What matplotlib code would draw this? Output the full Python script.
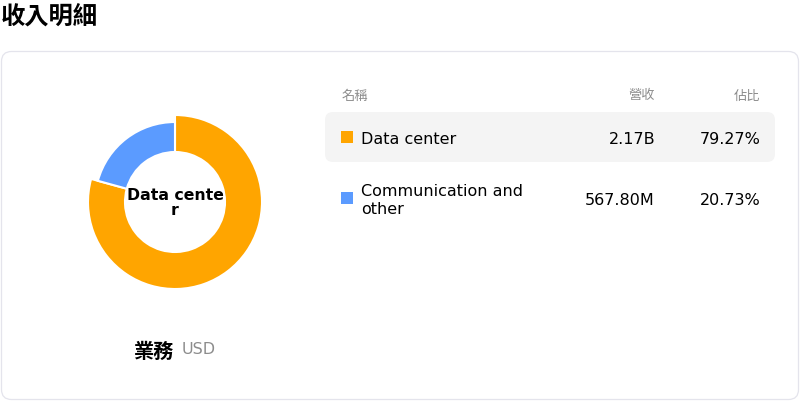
import matplotlib
matplotlib.use('Agg')
import matplotlib.pyplot as plt
from matplotlib.patches import FancyBboxPatch, Rectangle

# data
names = ['Data center', 'Communication and\nother']
revenue_labels = ['2.17B', '567.80M']
shares = [79.27, 20.73]
colors = ['#ffa500', '#5b9bff']
title = '收入明細'
headers = ['名稱', '營收', '佔比']
center_label = 'Data cente\nr'

CJK = ['Noto Sans CJK TC', 'DejaVu Sans']

fig = plt.figure(figsize=(8, 4.02), dpi=100)
ax = fig.add_axes([0, 0, 1, 1])
ax.set_xlim(0, 800)
ax.set_ylim(402, 0)
ax.axis('off')

# title + card
ax.text(1, 17, title, fontsize=17.5, fontweight='bold', family=CJK, va='center', ha='left')
card = FancyBboxPatch((1.5, 52.5), 797, 348, boxstyle='round,pad=0,rounding_size=10',
                      fc='white', ec='#e4e4ec', lw=0.9)
ax.add_patch(card)

# donut
pax = fig.add_axes([(175 - 100) / 800, (402 - 203 - 100) / 402, 200 / 800, 200 / 402])
wedges, _ = pax.pie(shares, colors=colors, startangle=90, counterclock=False, radius=87,
                    wedgeprops=dict(width=37, edgecolor='white', linewidth=1.5))
wedges[1].set_radius(80)
wedges[1].set_width(30)
pax.set_xlim(-100, 100)
pax.set_ylim(-100, 100)
pax.set_aspect('equal')
pax.axis('off')
ax.text(175, 203, center_label, fontsize=11.3, fontweight='bold', ha='center', va='center',
        linespacing=0.95, zorder=5)

ax.text(134, 351, '業務', fontsize=14.5, fontweight='bold', family=CJK, ha='left', va='center')
ax.text(182, 350, 'USD', fontsize=11.5, color='#8c8c8c', ha='left', va='center')

# table
ax.text(342, 96, headers[0], fontsize=9.5, color='#8c8c8c', family=CJK, va='center', ha='left')
ax.text(655, 96, headers[1], fontsize=9.5, color='#8c8c8c', family=CJK, va='center', ha='right')
ax.text(760, 96, headers[2], fontsize=9.5, color='#8c8c8c', family=CJK, va='center', ha='right')

hl = FancyBboxPatch((325, 113), 450, 50, boxstyle='round,pad=0,rounding_size=8',
                    fc='#f4f4f4', ec='none')
ax.add_patch(hl)

row_y = [138, 199]
for i, (n, r, s) in enumerate(zip(names, revenue_labels, shares)):
    y = row_y[i]
    ax.add_patch(Rectangle((341, y - 6), 12, 12, fc=colors[i], ec='none'))
    ax.text(361, y + 1.5, n, fontsize=11.5, va='center', ha='left', linespacing=1.2)
    ax.text(655, y + 1.5, r, fontsize=11.5, va='center', ha='right')
    ax.text(760.5, y + 1.5, f'{s:.2f}%', fontsize=11.5, va='center', ha='right')

fig.savefig('out.png', dpi=100)
